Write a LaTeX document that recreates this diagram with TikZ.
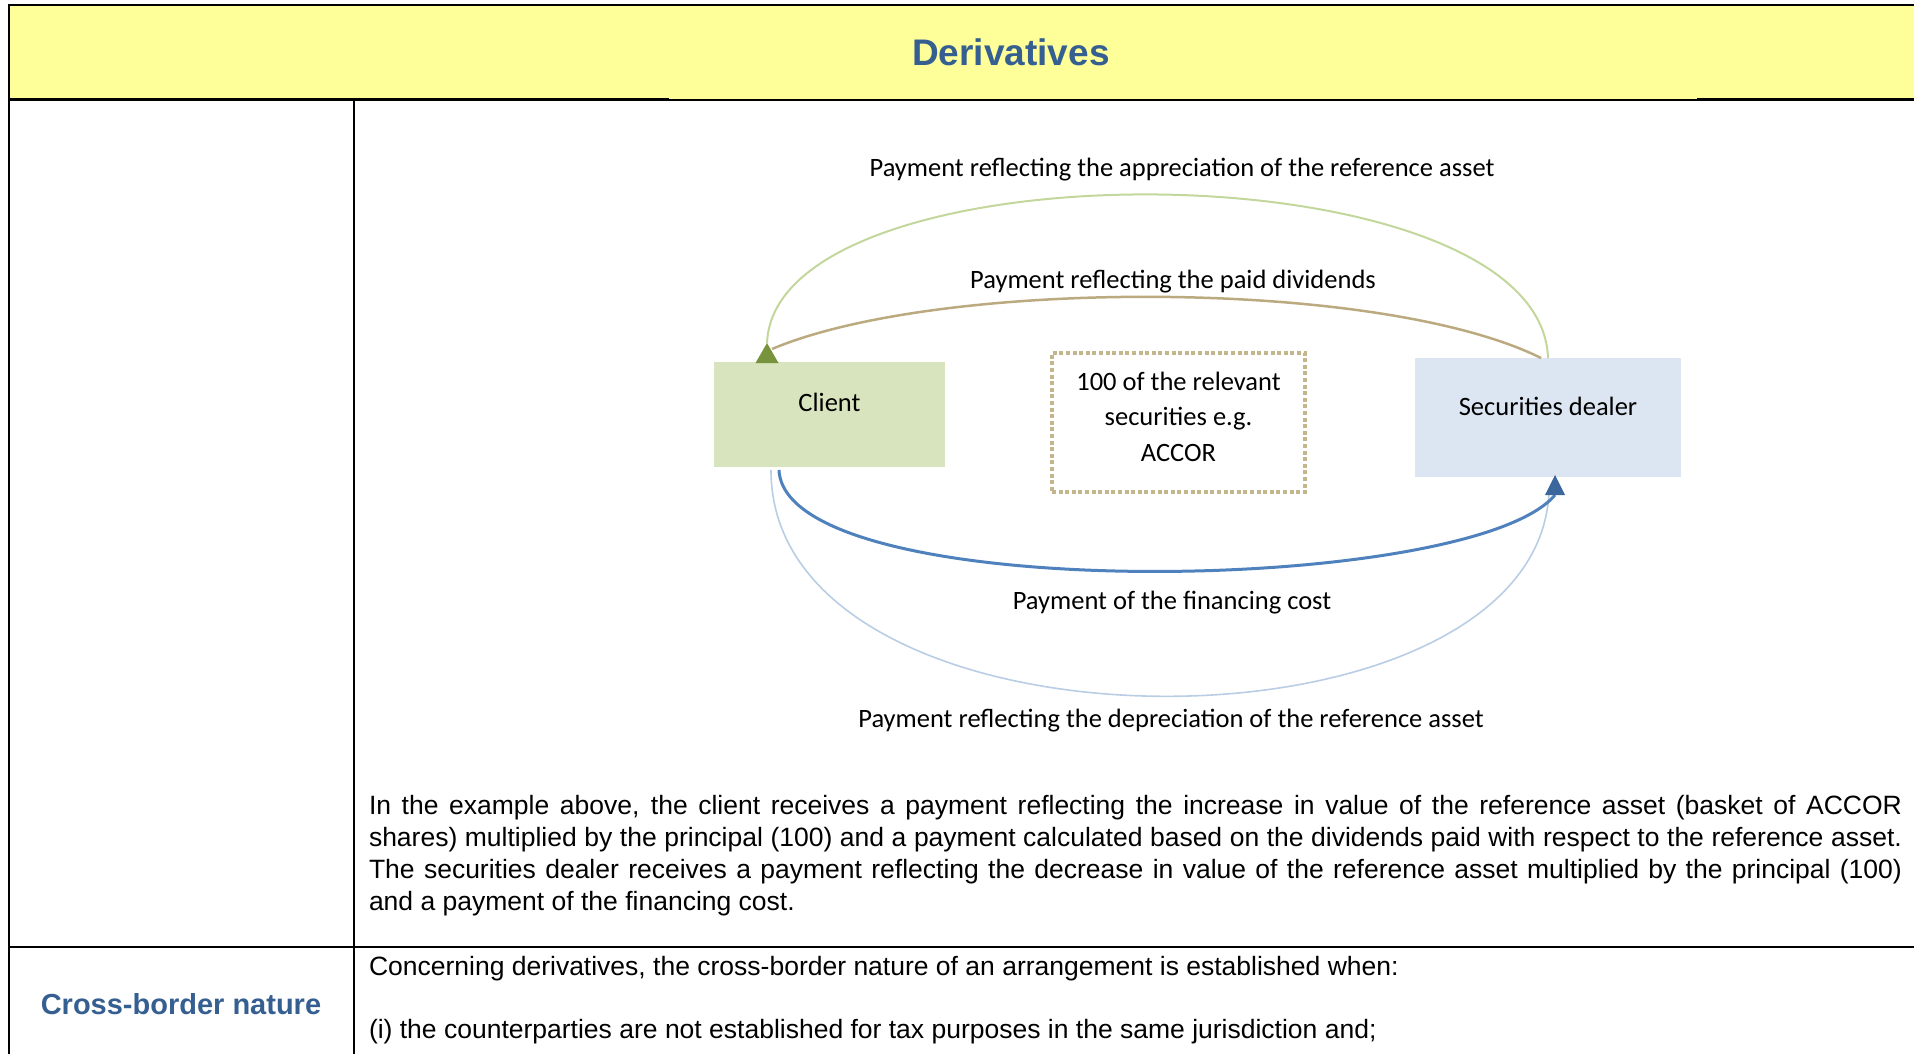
\documentclass[tikz,border=0pt]{standalone}
\usepackage{fontspec}
\setmainfont{Liberation Sans}
\newfontfamily\calib{Carlito}
\definecolor{titleblue}{HTML}{365F91}
\definecolor{headfill}{HTML}{FFFF99}
\definecolor{clientfill}{HTML}{D7E4BD}
\definecolor{dealerfill}{HTML}{DCE6F2}
\definecolor{khaki}{HTML}{C4B68C}
\definecolor{divline}{HTML}{BBAA80}
\definecolor{appline}{HTML}{C3D69B}
\definecolor{finline}{HTML}{4F81BD}
\definecolor{depline}{HTML}{B9CDE5}
\definecolor{greenhead}{HTML}{77933C}
\definecolor{bluehead}{HTML}{3C679C}
\begin{document}
\begin{tikzpicture}[x=1pt,y=-1pt,
  every node/.style={inner sep=0pt,outer sep=0pt},
  rule/.style={line width=#1,black},
  body/.style={font=\fontsize{26.5}{32}\selectfont,text=black},
  diag/.style={font=\calib\fontsize{26.5}{35.5}\selectfont,text=black},
  partybox/.style={draw=none,rectangle},
  sharesbox/.style={draw=khaki,line width=4pt,dash pattern=on 4pt off 2.6pt,rectangle,align=center},
  flow/.style={line width=#1},
]
\useasboundingbox (0,0) rectangle (1914,1054);

% header band
\fill[headfill] (9,5) rectangle (1914,100);
\node[anchor=base,font=\fontsize{37}{44}\selectfont\bfseries,text=titleblue] (title) at (1011,66) {Derivatives};

% table rules
\draw[rule=2.5pt] (9,5) -- (1914,5);
\draw[rule=2pt] (9,4) -- (9,1054);
\draw[rule=3pt] (8,100) -- (669,100);
\draw[rule=1.5pt] (669,100) -- (1697,100);
\draw[rule=3pt] (1697,100) -- (1914,100);
\draw[rule=2pt] (354,100) -- (354,1054);
\draw[rule=2.5pt] (8,947) -- (1914,947);

% parties and the underlying
\node[partybox,fill=clientfill,minimum width=231,minimum height=105] (client) at (829.5,414.5) {};
\node[diag,font=\calib\fontsize{26.5}{32}\selectfont] (clienttxt) at ([yshift=12pt]client.center) {Client};
\node[partybox,fill=dealerfill,minimum width=266,minimum height=119] (dealer) at (1548,417.5) {};
\node[diag,font=\calib\fontsize{26.5}{32}\selectfont] (dealertxt) at ([yshift=11.5pt]dealer.center) {Securities dealer};
\node[sharesbox,minimum width=253,minimum height=139] (shares) at (1178.5,422.5) {};
\node[diag,align=center] (sharestxt) at ([yshift=6pt]shares.center)
  {100 of the relevant\\securities e.g.\\ACCOR};

% arrow tips and curve ends
\coordinate (gtip) at ([xshift=53pt,yshift=19pt]client.north west);
\coordinate (btip) at ([xshift=7pt,yshift=2pt]dealer.south);
\coordinate (divend) at ([xshift=5pt,yshift=-6pt]gtip);
\coordinate (divstart) at ([xshift=-7pt]dealer.north);
\coordinate (finstart) at ([xshift=65pt,yshift=-3pt]client.south west);
\coordinate (finend) at ([yshift=-20pt]btip);
\coordinate (depstart) at ([xshift=57pt,yshift=-3pt]client.south west);
\coordinate (depend) at ([xshift=1pt,yshift=-15pt]dealer.south);

% flows
\draw[flow=2pt,appline] (dealer.north) .. controls +(-7,-214) and +(8,-202) .. (gtip);
\draw[flow=2.5pt,divline] (divstart) .. controls +(-161,-80) and +(168,-71) .. (divend);
\draw[flow=1.6pt,depline] (depstart) .. controls +(0,298) and +(-12,276) .. (depend);
\draw[flow=3pt,finline] (finstart) .. controls +(6,136) and +(-85,101) .. (finend);

\fill[greenhead] (gtip) -- ++(-11.5,20) -- ++(23,0) -- cycle;
\fill[bluehead] (btip) -- ++(-10,20) -- ++(20,0) -- cycle;

% flow labels
\node[diag] (lblapp) at (1182,170) {Payment reflecting the appreciation of the reference asset};
\node[diag] (lbldiv) at (1173,282) {Payment reflecting the paid dividends};
\node[diag] (lblfin) at (1172,603) {Payment of the financing cost};
\node[diag] (lbldep) at (1171,721) {Payment reflecting the depreciation of the reference asset};

% explanation
\node[body,anchor=base west,text width=1533pt,align=justify] (para) at (369,814)
  {In the example above, the client receives a payment reflecting the increase in value of the reference asset (basket of ACCOR\linebreak
   shares) multiplied by the principal (100) and a payment calculated based on the dividends paid with respect to the reference asset.\linebreak
   The securities dealer receives a payment reflecting the decrease in value of the reference asset multiplied by the principal (100)\linebreak
   and a payment of the financing cost.};

% second row
\node[anchor=base,font=\fontsize{29}{34}\selectfont\bfseries,text=titleblue] (crossb) at (181,1014) {Cross-border nature};
\node[body,anchor=base west] (concern) at (369,975) {Concerning derivatives, the cross-border nature of an arrangement is established when:};
\node[body,anchor=base west] (item) at (369,1038) {(i) the counterparties are not established for tax purposes in the same jurisdiction and;};
\end{tikzpicture}
\end{document}
